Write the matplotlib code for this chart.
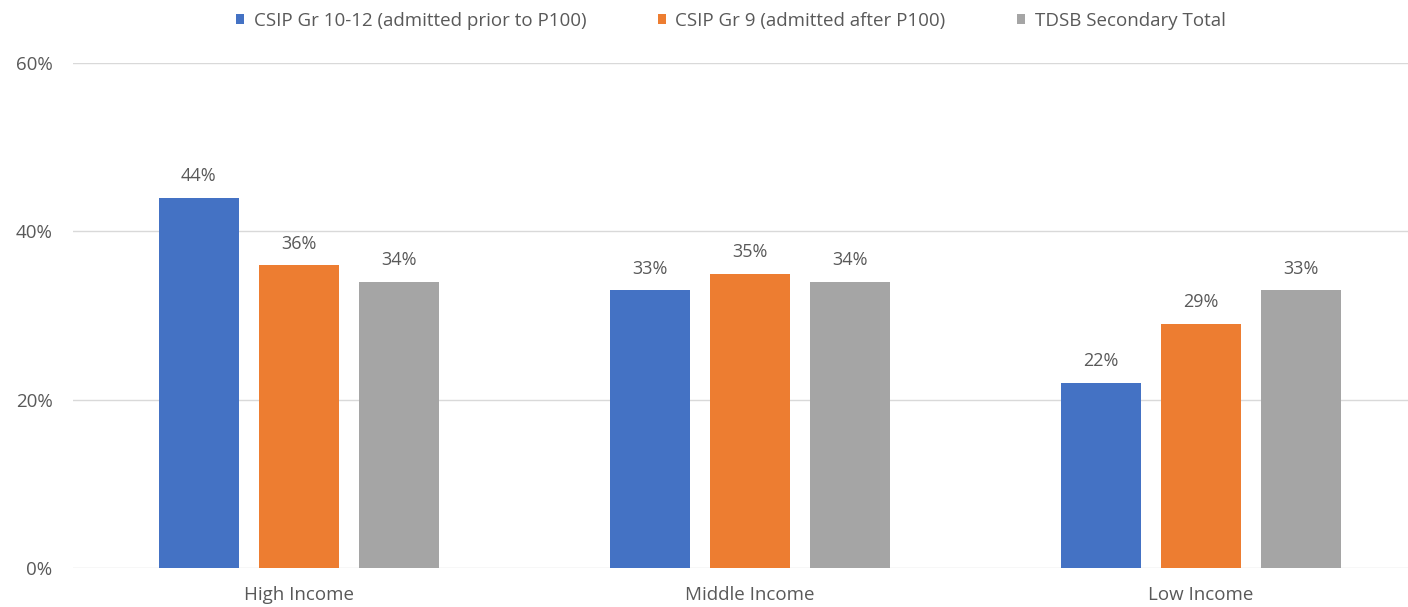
import numpy as np
import matplotlib.pyplot as plt

plt.rcParams['font.family'] = ['Open Sans', 'DejaVu Sans']

categories = ['High Income', 'Middle Income', 'Low Income']
series_names = ['CSIP Gr 10-12 (admitted prior to P100)',
                'CSIP Gr 9 (admitted after P100)',
                'TDSB Secondary Total']
gr10_12 = [44, 33, 22]
gr9 = [36, 35, 29]
tdsb = [34, 34, 33]
colors = ['#4472C4', '#ED7D31', '#A5A5A5']

fig = plt.figure(figsize=(14.08, 6.07), dpi=100)
ax = fig.add_axes([0.052, 0.064, 0.961, 0.832])

x = np.arange(len(categories))
w = 0.177
step = 0.222
for i, (vals, name, c) in enumerate(zip([gr10_12, gr9, tdsb], series_names, colors)):
    pos = x + (i - 1) * step
    ax.bar(pos, vals, width=w, color=c, label=name, zorder=3)
    for p, v in zip(pos, vals):
        ax.text(p, v + 1.5, f'{v}%', ha='center', va='bottom',
                fontsize=13, color='#595959')

ax.set_ylim(0, 60)
ax.set_xlim(-0.5, 2.5)
ax.set_yticks([0, 20, 40, 60])
ax.set_yticklabels(['0%', '20%', '40%', '60%'])
ax.set_xticks(x)
ax.set_xticklabels(categories)
ax.tick_params(axis='both', length=0, labelsize=13.5, labelcolor='#595959')
ax.tick_params(axis='x', pad=13)
ax.tick_params(axis='y', pad=15)
ax.grid(axis='y', color='#D9D9D9', linewidth=1, zorder=0)
for s in ax.spines.values():
    s.set_visible(False)

fig.legend(loc='upper center', bbox_to_anchor=(0.519, 1.008), ncol=3,
           frameon=False, fontsize=13.5, labelcolor='#595959',
           handlelength=0.45, handleheight=0.45, columnspacing=3.8,
           handletextpad=0.5)

fig.savefig('out.png', dpi=100)
